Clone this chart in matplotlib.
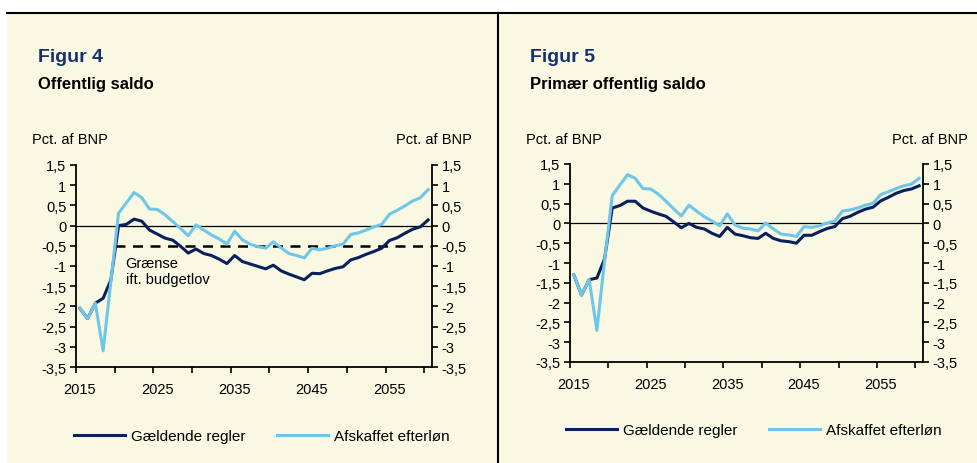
import matplotlib
matplotlib.use('Agg')
import matplotlib.pyplot as plt
from matplotlib.lines import Line2D
from matplotlib.patches import Rectangle

plt.rcParams['font.family'] = ['Liberation Sans', 'DejaVu Sans']

years = list(range(2015, 2061))

# Figur 4 - Offentlig saldo (pct. af BNP)
saldo_gaeld = [-2.05, -2.30, -1.92, -1.80, -1.35,
               0.00, 0.03, 0.16, 0.11, -0.11,
               -0.21, -0.31, -0.36, -0.51, -0.68,
               -0.58, -0.69, -0.74, -0.83, -0.94,
               -0.74, -0.89, -0.95, -1.01, -1.07,
               -0.98, -1.12, -1.20, -1.27, -1.34,
               -1.18, -1.19, -1.12, -1.06, -1.02,
               -0.85, -0.79, -0.71, -0.64, -0.56,
               -0.37, -0.30, -0.19, -0.09, -0.03,
               0.14]
saldo_afsk = [-2.05, -2.30, -1.92, -3.10, -1.39,
              0.31, 0.56, 0.82, 0.69, 0.41,
              0.40, 0.27, 0.10, -0.07, -0.25,
              0.02, -0.11, -0.23, -0.33, -0.46,
              -0.14, -0.35, -0.46, -0.52, -0.56,
              -0.40, -0.55, -0.69, -0.74, -0.80,
              -0.56, -0.60, -0.56, -0.50, -0.46,
              -0.22, -0.18, -0.11, -0.03, 0.03,
              0.28, 0.38, 0.49, 0.61, 0.69,
              0.89]
graense = -0.5
graense_start = 2020

# Figur 5 - Primaer offentlig saldo
prim_gaeld = [-1.30, -1.81, -1.42, -1.38, -0.90,
              0.39, 0.45, 0.56, 0.56, 0.39,
              0.31, 0.24, 0.18, 0.04, -0.11,
              0.00, -0.10, -0.14, -0.25, -0.33,
              -0.10, -0.27, -0.31, -0.36, -0.38,
              -0.25, -0.38, -0.44, -0.46, -0.50,
              -0.30, -0.30, -0.21, -0.13, -0.08,
              0.12, 0.18, 0.28, 0.36, 0.41,
              0.57, 0.66, 0.76, 0.83, 0.87,
              0.95]
prim_afsk = [-1.30, -1.81, -1.42, -2.70, -0.95,
             0.70, 0.97, 1.23, 1.14, 0.88,
             0.87, 0.74, 0.56, 0.37, 0.19,
             0.46, 0.31, 0.17, 0.06, -0.06,
             0.24, -0.04, -0.12, -0.14, -0.19,
             0.01, -0.14, -0.27, -0.29, -0.33,
             -0.08, -0.10, -0.06, 0.01, 0.06,
             0.31, 0.34, 0.39, 0.46, 0.51,
             0.73, 0.80, 0.88, 0.95, 0.99,
             1.14]

yticks = [1.5, 1, 0.5, 0, -0.5, -1, -1.5, -2, -2.5, -3, -3.5]
yticklabels = ['1,5', '1', '0,5', '0', '-0,5', '-1', '-1,5', '-2', '-2,5', '-3', '-3,5']
xlabel_years = [2015, 2025, 2035, 2045, 2055]
series_names = ['Gældende regler', 'Afskaffet efterløn']

DARK = '#0B1F5C'
LIGHT = '#6FC6E8'
NAVY = '#17306E'
CREAM = '#F8F8E3'
FS = 10.5

W, H = 978, 464
fig = plt.figure(figsize=(W / 100, H / 100), dpi=100)
fig.patch.set_facecolor('white')

def px(x0, y0, x1, y1):
    return [x0 / W, 1 - y1 / H, (x1 - x0) / W, (y1 - y0) / H]

# panel background and frame lines
fig.add_artist(Rectangle((7 / W, 0), 1 - 7 / W, 1 - 14 / H, transform=fig.transFigure,
                         facecolor=CREAM, edgecolor='none', zorder=-10))
fig.add_artist(Line2D([7 / W, 1], [1 - 14 / H, 1 - 14 / H], color='black', lw=1.5))
fig.add_artist(Line2D([498 / W, 498 / W], [0, 1 - 14 / H], color='black', lw=1.5))


def draw(ax, gaeld, afsk):
    xs = [y + 0.5 for y in years]
    ax.set_facecolor('none')
    ax.axhline(0, color='black', lw=0.9, zorder=1)
    ax.plot(xs, gaeld, color=DARK, lw=2.2, zorder=3, label=series_names[0])
    ax.plot(xs, afsk, color=LIGHT, lw=2.2, zorder=4, label=series_names[1])
    ax.set_xlim(2015, 2061)
    ax.set_ylim(-3.5, 1.5)
    ax.set_yticks(yticks)
    ax.set_yticklabels(yticklabels)
    ax.set_xticks(range(2015, 2061, 5))
    ax.set_xticklabels([])
    ax.set_xticks([y + 0.5 for y in xlabel_years], minor=True)
    ax.set_xticklabels([str(y) for y in xlabel_years], minor=True)
    ax.tick_params(axis='x', which='minor', length=0, pad=11, labelsize=FS)
    ax.tick_params(axis='x', which='major', direction='out', length=4, width=1.2)
    ax.tick_params(axis='y', direction='out', length=4, width=1.2, labelsize=FS,
                   left=True, right=True, labelleft=True, labelright=True, pad=3)
    ax.spines['top'].set_visible(False)
    for s in ['left', 'right', 'bottom']:
        ax.spines[s].set_linewidth(1.3)


# Figur 4
ax1 = fig.add_axes(px(76, 166, 432, 368))
draw(ax1, saldo_gaeld, saldo_afsk)
ax1.plot([graense_start, 2061], [graense, graense], color='black', lw=1.8,
         linestyle=(0, (4, 3)), zorder=2)
ax1.text(2021.4, -1.12, 'Grænse\nift. budgetlov', fontsize=FS, ha='left', va='center',
         linespacing=1.15)
ax1.legend(loc='center', bbox_to_anchor=(262 / W, 1 - 437 / H), bbox_transform=fig.transFigure,
           ncol=2, frameon=False, fontsize=11, handlelength=3.3, handletextpad=0.4,
           columnspacing=2.1)

fig.text(38 / W, 1 - 57 / H, 'Figur 4', fontsize=14, fontweight='bold', color=NAVY, va='center')
fig.text(38 / W, 1 - 85 / H, 'Offentlig saldo', fontsize=12, fontweight='bold', color='black',
         va='center')
fig.text(32 / W, 1 - 140 / H, 'Pct. af BNP', fontsize=FS, va='center')
fig.text(472 / W, 1 - 140 / H, 'Pct. af BNP', fontsize=FS, va='center', ha='right')

# Figur 5
ax2 = fig.add_axes(px(570, 165, 923, 363))
draw(ax2, prim_gaeld, prim_afsk)
ax2.legend(loc='center', bbox_to_anchor=(754 / W, 1 - 431 / H), bbox_transform=fig.transFigure,
           ncol=2, frameon=False, fontsize=11, handlelength=3.3, handletextpad=0.4,
           columnspacing=2.1)

fig.text(530 / W, 1 - 57 / H, 'Figur 5', fontsize=14, fontweight='bold', color=NAVY, va='center')
fig.text(530 / W, 1 - 85 / H, 'Primær offentlig saldo', fontsize=12, fontweight='bold',
         color='black', va='center')
fig.text(526 / W, 1 - 140 / H, 'Pct. af BNP', fontsize=FS, va='center')
fig.text(968 / W, 1 - 140 / H, 'Pct. af BNP', fontsize=FS, va='center', ha='right')

fig.savefig('out.png', dpi=100, facecolor=fig.get_facecolor())
